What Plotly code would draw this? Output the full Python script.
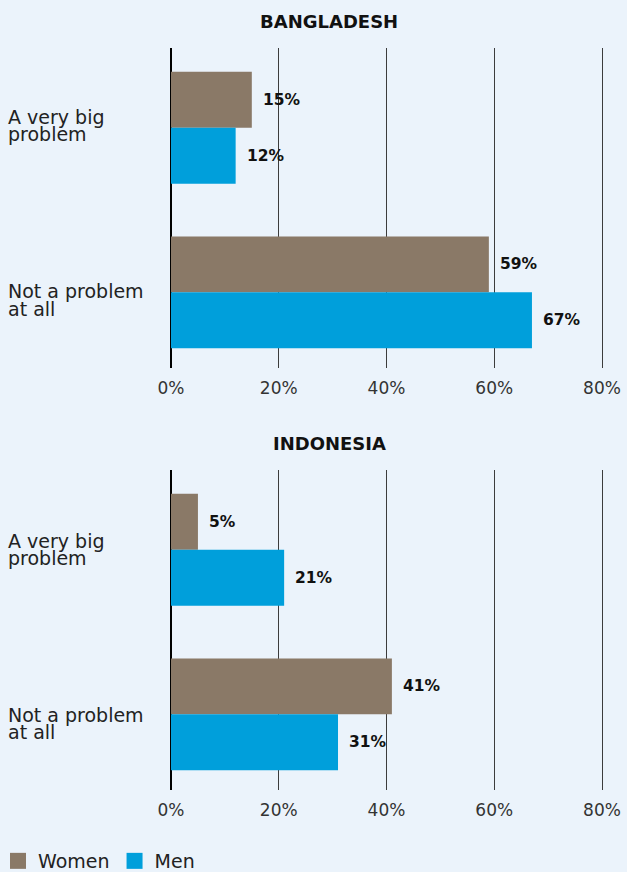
import plotly.graph_objects as go

categories = ["A very big problem", "Not a problem at all"]
category_lines = [["A very big", "problem"], ["Not a problem", "at all"]]
series_names = ["Women", "Men"]
bangladesh_women = [15, 59]
bangladesh_men = [12, 67]
indonesia_women = [5, 41]
indonesia_men = [21, 31]
x_ticks = [0, 20, 40, 60, 80]
x_tick_labels = ["0%", "20%", "40%", "60%", "80%"]
panel_titles = ["BANGLADESH", "INDONESIA"]

WOMEN_C = "#8A7967"
MEN_C = "#009FDB"
BG = "#EBF3FB"
FONT = "DejaVu Sans"
W, H = 627, 872

fig = go.Figure()

panels = [
    (bangladesh_women, bangladesh_men, "x", "y"),
    (indonesia_women, indonesia_men, "x2", "y2"),
]
for women, men, xa, ya in panels:
    fig.add_trace(go.Bar(y=categories, x=women, orientation="h", marker_color=WOMEN_C,
                         marker_line_width=0,
                         name="Women", showlegend=False, xaxis=xa, yaxis=ya))
    fig.add_trace(go.Bar(y=categories, x=men, orientation="h", marker_color=MEN_C,
                         marker_line_width=0,
                         name="Men", showlegend=False, xaxis=xa, yaxis=ya))

# legend entries with large square swatches
for name, col in zip(series_names, [WOMEN_C, MEN_C]):
    fig.add_trace(go.Scatter(x=[None], y=[None], mode="markers", name=name,
                             marker=dict(symbol="square", size=20, color=col),
                             xaxis="x", yaxis="y"))

def py(p):
    return 1 - p / H

PX_PER_UNIT = (602 - 171) / 80.0
XMAX = 80.4
xdom = [171 / W, (171 + XMAX * PX_PER_UNIT) / W]
axis_x = dict(range=[0, XMAX], tickvals=x_ticks, ticktext=x_tick_labels, showgrid=True,
              gridcolor="#3c3c3c", gridwidth=1.2, zeroline=True, zerolinecolor="#000000",
              zerolinewidth=1.5, showline=False, ticks="", fixedrange=True,
              tickfont=dict(family=FONT, size=17, color="#333333"), ticklabelstandoff=8)
axis_y = dict(type="category", range=[1.46, -0.485], showticklabels=False, showgrid=False,
              zeroline=False, showline=False, ticks="", fixedrange=True)

fig.update_layout(
    width=W, height=H, paper_bgcolor=BG, plot_bgcolor=BG,
    margin=dict(l=0, r=0, t=0, b=0, autoexpand=False),
    barmode="group", bargap=0.32, bargroupgap=0,
    xaxis=dict(axis_x, domain=xdom, anchor="y"),
    yaxis=dict(axis_y, domain=[py(368), py(48)], anchor="x"),
    xaxis2=dict(axis_x, domain=xdom, anchor="y2"),
    yaxis2=dict(axis_y, domain=[py(790), py(470)], anchor="x2"),
    showlegend=True,
    legend=dict(orientation="h", x=-2 / W, xanchor="left", y=py(861), yanchor="middle",
                font=dict(family=FONT, size=19, color="#222222"), bgcolor="rgba(0,0,0,0)",
                borderwidth=0, tracegroupgap=0),
    font=dict(family=FONT),
)

annotations = []
# titles
for title, ypix in zip(panel_titles, [21, 444]):
    annotations.append(dict(text="<b>" + title + "</b>", xref="paper", yref="paper",
                            x=329 / W, y=py(ypix), xanchor="center", yanchor="middle",
                            showarrow=False, font=dict(family=FONT, size=18, color="#111111")))
# category labels (one annotation per text line)
label_centres = [[[116, 133], [290, 308]], [[540, 557], [714, 731]]]
for panel_centres in label_centres:
    for lines, centres in zip(category_lines, panel_centres):
        for line, c in zip(lines, centres):
            annotations.append(dict(text=line, xref="paper", yref="paper", x=6 / W, y=py(c + 1),
                                    xanchor="left", yanchor="middle", align="left",
                                    showarrow=False,
                                    font=dict(family=FONT, size=19, color="#222222")))
# value labels
for women, men, xa, ya in panels:
    for i, cat in enumerate(categories):
        for val, shift in [(women[i], -28), (men[i], 28)]:
            annotations.append(dict(text="<b>%d%%</b>" % val, xref=xa, yref=ya, x=val, y=cat,
                                    xanchor="left", yanchor="middle", xshift=9, yshift=-shift,
                                    showarrow=False,
                                    font=dict(family=FONT, size=15.5, color="#111111")))
fig.update_layout(annotations=annotations)

fig.write_html("out.html", config={"displayModeBar": False},
               post_script="document.body.style.margin='0';"
                           "document.body.style.background='%s';" % BG)
